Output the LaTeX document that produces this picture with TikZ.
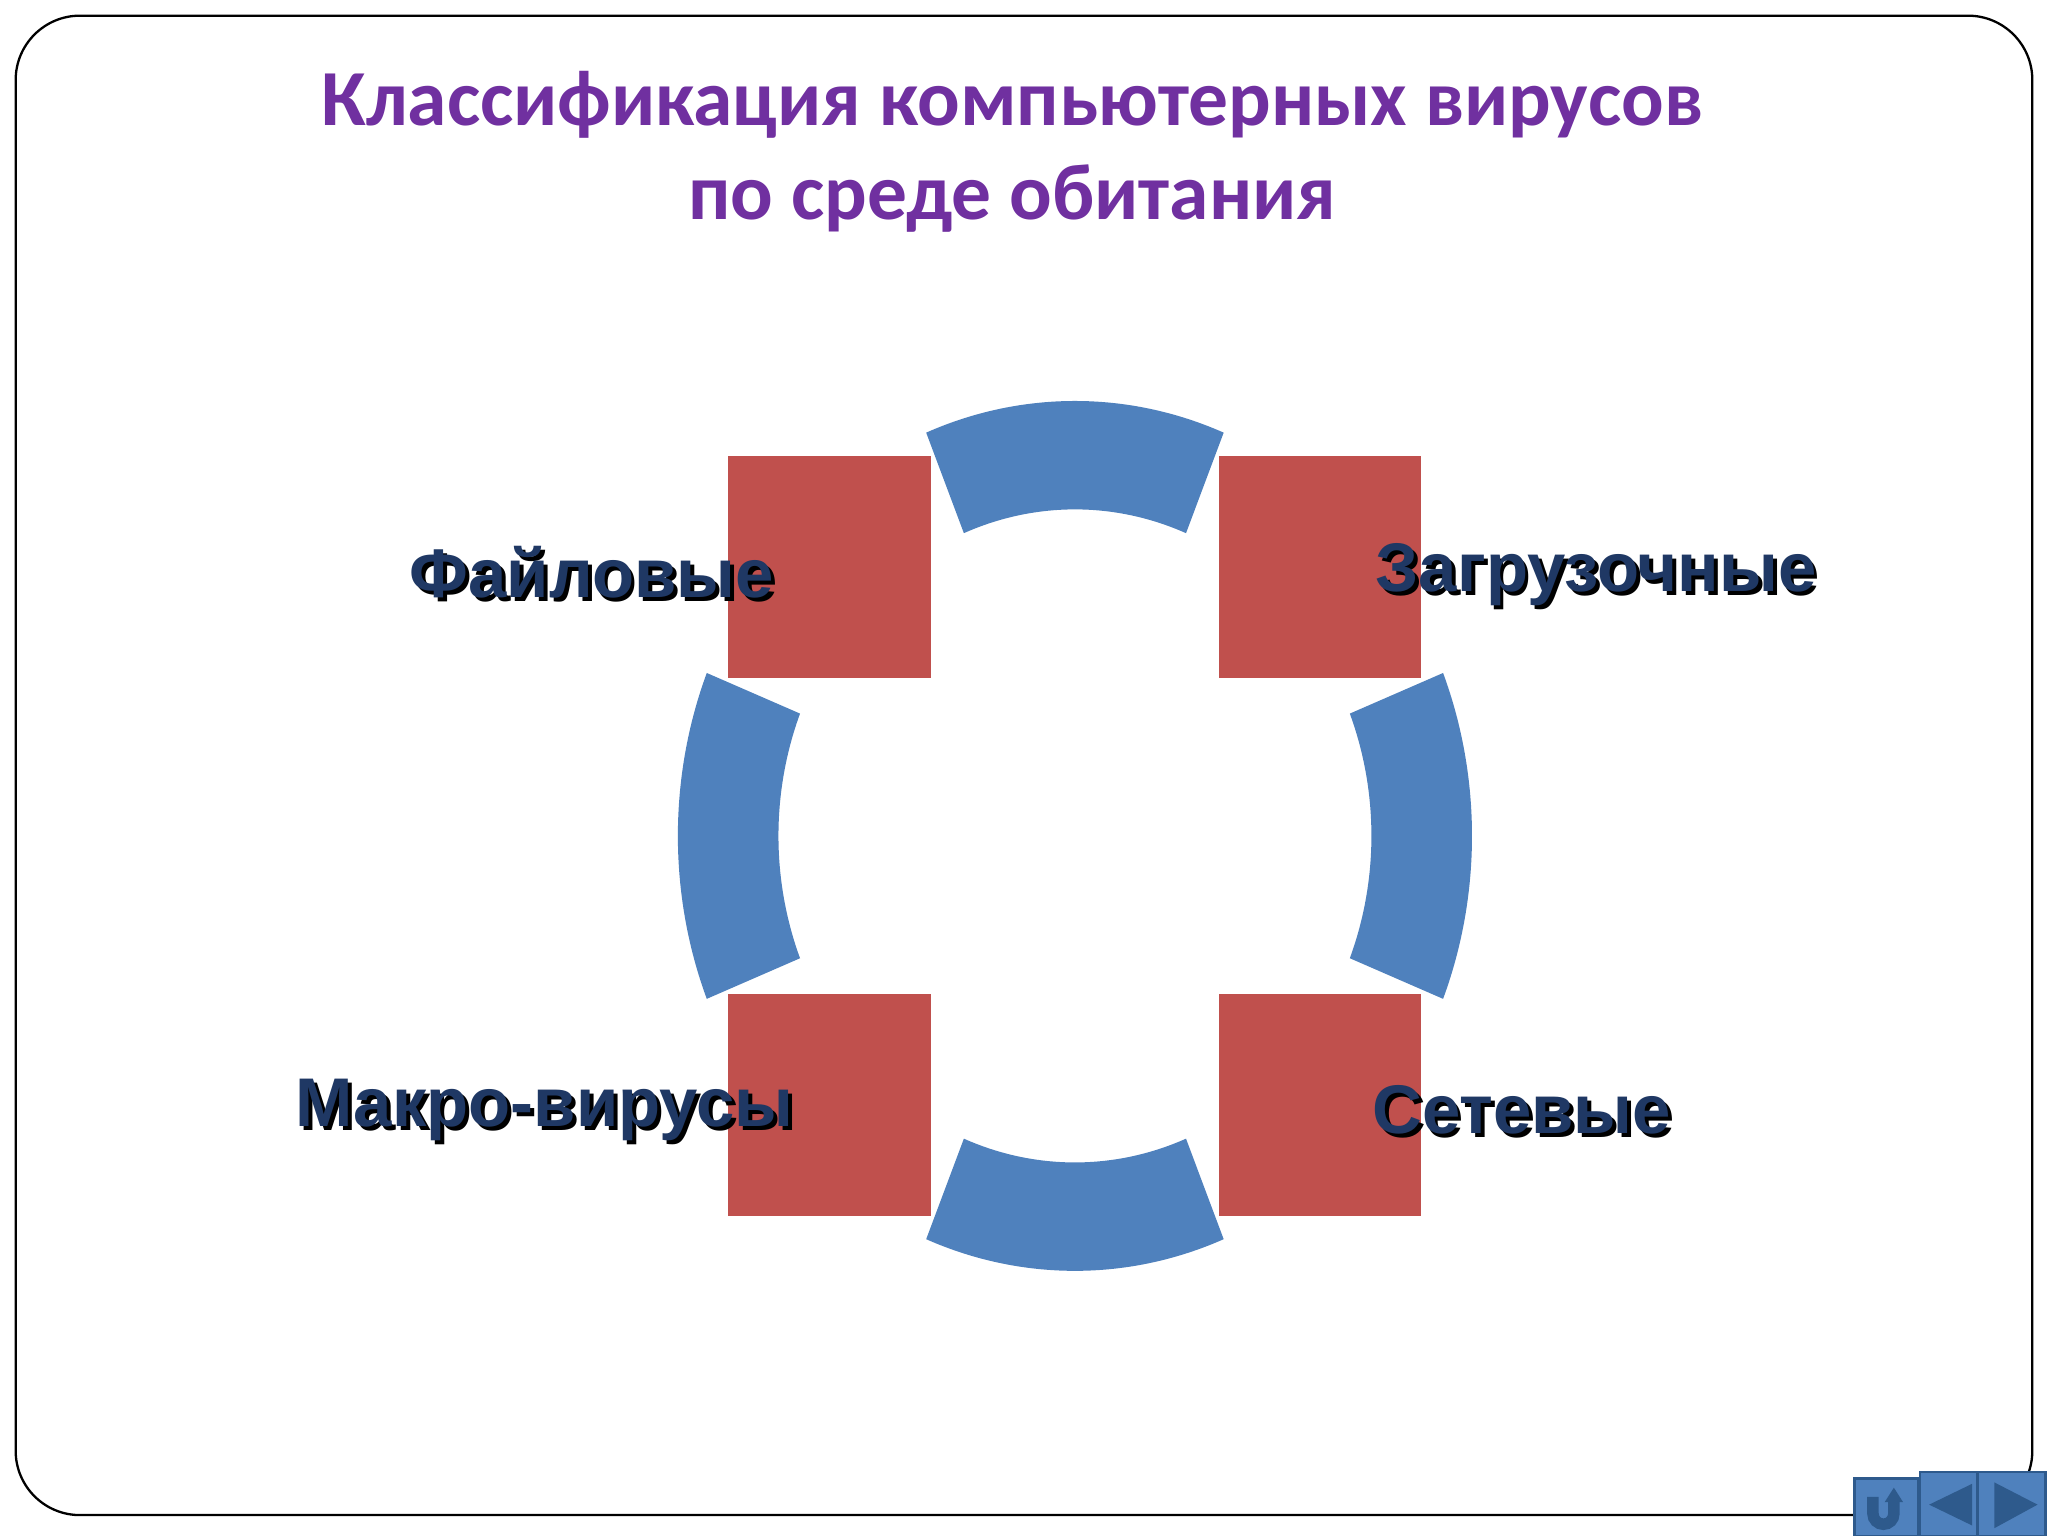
\documentclass[tikz,border=0pt]{standalone}
\usepackage{fontspec}
\setmainfont{Liberation Sans}
\newfontfamily\titlefont{Carlito}
\definecolor{ttl}{HTML}{7030A0}
\definecolor{ringblue}{HTML}{4F81BD}
\definecolor{boxred}{HTML}{C0504D}
\definecolor{lbl}{HTML}{1F3864}
\definecolor{btn}{HTML}{4F81BD}
\definecolor{btndark}{HTML}{2E5A8C}
\begin{document}
\begin{tikzpicture}[x=0.01cm,y=-0.01cm,
  seg/.style={fill=ringblue,draw=none},
  sq/.style={fill=boxred,draw=none},
  lab/.style={font=\fontsize{15pt}{18pt}\selectfont\bfseries,text=lbl,inner sep=0pt},
  shd/.style={font=\fontsize{15pt}{18pt}\selectfont\bfseries,text=black,inner sep=0pt},
  ttlst/.style={font=\titlefont\fontsize{17.3pt}{20.5pt}\selectfont\bfseries,text=ttl,align=center},
  button/.style={fill=btn,draw=btndark,line width=0.6pt}]
\useasboundingbox (0,0) rectangle (1568,1176);
\fill[white] (0,0) rectangle (1568,1176);
\draw[line width=0.5pt,rounded corners=14pt] (12,12) rectangle (1556,1160);
\node[ttlst] (title) at (775,116) {Классификация компьютерных вирусов\\по среде обитания};
% ring segments
\foreach \a in {0,90,180,270}{
  \fill[seg] ({823+304*cos(\a-22)},{640+333*sin(\a-22)})
    arc[start angle=\a-22,end angle=\a+22,x radius=304,y radius=333]
    -- ({823+227*cos(\a+22)},{640+250*sin(\a+22)})
    arc[start angle=\a+22,end angle=\a-22,x radius=227,y radius=250] -- cycle;
}
\fill[sq] (557,349) rectangle (713,519);
\fill[sq] (933,349) rectangle (1088,519);
\fill[sq] (557,761) rectangle (713,931);
\fill[sq] (933,761) rectangle (1088,931);
% labels
\node[shd] (s1) at (456,441) {Файловые};
\node[lab] (l1) at (453,438) {Файловые};
\node[shd] (s2) at (1225,443) {Загрузочные};
\node[lab] (l2) at (1222,440) {Загрузочные};
\node[shd] (s3) at (420,853) {Макро-вирусы};
\node[lab] (l3) at (417,850) {Макро-вирусы};
\node[shd] (s4) at (1168,853) {Сетевые};
\node[lab] (l4) at (1165,850) {Сетевые};
% nav buttons
\draw[button] (1420,1132) rectangle (1469,1176);
\draw[button] (1470,1127) rectangle (1514,1176);
\draw[button] (1514,1127) rectangle (1566,1176);
\draw[line width=2.5pt,draw=btndark] (1434,1146) -- (1434,1159) arc[start angle=180,end angle=0,radius=8] -- (1450,1149);
\fill[btndark] (1443,1150) -- (1450,1139) -- (1457,1150) -- cycle;
\fill[btndark] (1477,1152) -- (1510,1136) -- (1510,1168) -- cycle;
\fill[btndark] (1527,1135) -- (1560,1152) -- (1527,1170) -- cycle;
\end{tikzpicture}
\end{document}
